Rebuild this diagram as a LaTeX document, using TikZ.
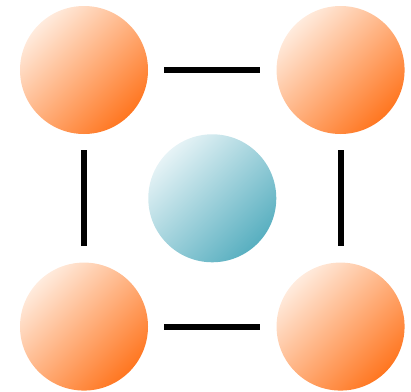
\documentclass[tikz,border=0pt]{standalone}
\usepackage{xcolor}
\usepackage{tikz}
\usetikzlibrary{calc,positioning}

\definecolor{orgLight}{HTML}{FFEBDD}
\definecolor{orgDark}{HTML}{FF7620}
\definecolor{tealLight}{HTML}{E6F3F6}
\definecolor{tealDark}{HTML}{58AFC0}

\begin{document}
\begin{tikzpicture}[
    node distance=3.2cm and 3.2cm,
    ball/.style={circle, draw=none, inner sep=0pt, minimum size=3.2cm},
    outer/.style={ball, top color=orgLight, bottom color=orgDark,
                  shading angle=45},
    inner/.style={ball, top color=tealLight, bottom color=tealDark,
                  shading angle=45},
    bond/.style={line width=0.15cm, shorten <=0.4cm, shorten >=0.4cm}
]
\useasboundingbox (0,0) rectangle (10.275,9.775);
\node[outer] at (2.1,8.025)     (tl)  {};
\node[outer, right=of tl]       (tr)  {};
\node[outer, below=of tl]       (bl)  {};
\node[outer, right=of bl]       (br)  {};
\node[inner] at ($(tl)!0.5!(br)$) (mid) {};

\draw[bond] (tl) -- (tr);
\draw[bond] (bl) -- (br);
\draw[bond] (tl) -- (bl);
\draw[bond] (tr) -- (br);
\end{tikzpicture}
\end{document}
